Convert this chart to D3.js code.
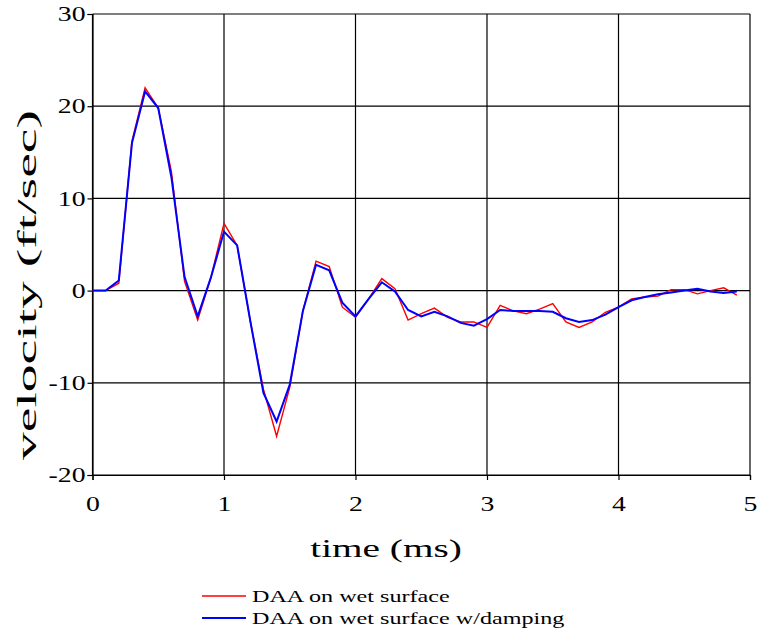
<!DOCTYPE html>
<html><head><meta charset="utf-8">
<script src="https://cdn.jsdelivr.net/npm/d3@7"></script>
<style>body{margin:0;background:#fff}svg{display:block}</style>
</head><body><div id="chart"></div>
<script>
const times = d3.range(50).map(i => +(i * 0.1).toFixed(1));
const seriesNames = ["DAA on wet surface", "DAA on wet surface w/damping"];
const seriesColors = ["#ff0000", "#0000ff"];
const wetSurface = [0, 0, 0.8, 16.2, 22.0, 19.8, 12.9, 1.0, -3.2, 1.4,
  7.3, 4.9, -3.3, -10.7, -15.8, -10.5, -2.2, 3.2, 2.6, -1.8,
  -2.9, -0.9, 1.3, 0.2, -3.2, -2.5, -1.9, -2.9, -3.4, -3.4,
  -4.0, -1.6, -2.2, -2.5, -2.0, -1.4, -3.4, -4.0, -3.4, -2.35,
  -1.8, -0.9, -0.7, -0.6, 0.1, 0.1, -0.35, 0.0, 0.3, -0.5];
const wetDamping = [0, 0, 1.1, 16.0, 21.6, 19.8, 12.3, 1.5, -2.8, 1.4,
  6.4, 4.9, -3.3, -11.1, -14.2, -10.2, -2.2, 2.8, 2.2, -1.3,
  -2.8, -0.9, 0.9, -0.1, -2.1, -2.8, -2.3, -2.8, -3.5, -3.8,
  -3.1, -2.1, -2.2, -2.2, -2.2, -2.3, -3.0, -3.4, -3.2, -2.6,
  -1.8, -1.05, -0.7, -0.4, -0.2, 0.0, 0.2, -0.1, -0.25, -0.1];
const xTicks = [0, 1, 2, 3, 4, 5];
const yTicks = [-20, -10, 0, 10, 20, 30];
const xTitle = "time (ms)";
const yTitle = "velocity (ft/sec)";

const W = 758, H = 632;
const svg = d3.select("#chart").append("svg").attr("width", W).attr("height", H);
const x = d3.scaleLinear().domain([0, 5]).range([92.5, 750]);
const y = d3.scaleLinear().domain([-20, 30]).range([475, 14]);
const font = "'Liberation Serif', 'Times New Roman', serif";
const fmt = d => String(d); // plain hyphen minus

function stretch(sel, f) {
  sel.each(function () {
    const L = this.getComputedTextLength();
    d3.select(this).attr("textLength", L * f).attr("lengthAdjust", "spacingAndGlyphs");
  });
}

// gridlines
svg.append("g").selectAll("line").data(xTicks).join("line")
  .attr("x1", d => x(d)).attr("x2", d => x(d)).attr("y1", y(30)).attr("y2", y(-20))
  .attr("stroke", "#000").attr("stroke-width", 1.2);
svg.append("g").selectAll("line").data(yTicks).join("line")
  .attr("x1", x(0)).attr("x2", x(5)).attr("y1", d => y(d)).attr("y2", d => y(d))
  .attr("stroke", "#000").attr("stroke-width", 1.2);

// axes
const xAxis = svg.append("g").attr("transform", `translate(0,${y(-20)})`)
  .call(d3.axisBottom(x).tickValues(xTicks).tickSize(5).tickPadding(16).tickFormat(fmt));
const yAxis = svg.append("g").attr("transform", `translate(${x(0)},0)`)
  .call(d3.axisLeft(y).tickValues(yTicks).tickSize(5).tickPadding(2).tickFormat(fmt));
[xAxis, yAxis].forEach(g => {
  g.attr("font-family", font).attr("font-size", 21);
  g.selectAll("path,line").attr("stroke", "#000").attr("stroke-width", 1.2);
  g.selectAll("text").attr("font-family", font).attr("font-size", 21).attr("fill", "#000");
  stretch(g.selectAll("text"), 1.32);
});

// lines
const series = [wetSurface, wetDamping];
const line = d3.line().x((d, i) => x(times[i])).y(d => y(d));
series.forEach((s, k) => {
  svg.append("path").datum(s).attr("d", line).attr("fill", "none")
    .attr("stroke", seriesColors[k]).attr("stroke-width", k === 0 ? 1.4 : 2)
    .attr("stroke-linejoin", "miter");
});

// titles
const xt = svg.append("text").attr("x", 386).attr("y", 557).attr("text-anchor", "middle")
  .attr("font-family", font).attr("font-size", 25).text(xTitle);
stretch(xt, 1.57);
const yt = svg.append("text").attr("transform", "translate(36,285) rotate(-90)").attr("text-anchor", "middle")
  .attr("font-family", font).attr("font-size", 27).text(yTitle);
yt.attr("textLength", 350).attr("lengthAdjust", "spacingAndGlyphs");

// legend
const lg = svg.append("g");
seriesNames.forEach((n, k) => {
  const yy = 596 + k * 22;
  lg.append("line").attr("x1", 202).attr("x2", 246).attr("y1", yy).attr("y2", yy)
    .attr("stroke", seriesColors[k]).attr("stroke-width", k === 0 ? 1.4 : 2);
  const t = lg.append("text").attr("x", 252).attr("y", yy + 6).attr("font-family", font)
    .attr("font-size", 17).text(n);
  stretch(t, 1.42);
});
</script></body></html>
